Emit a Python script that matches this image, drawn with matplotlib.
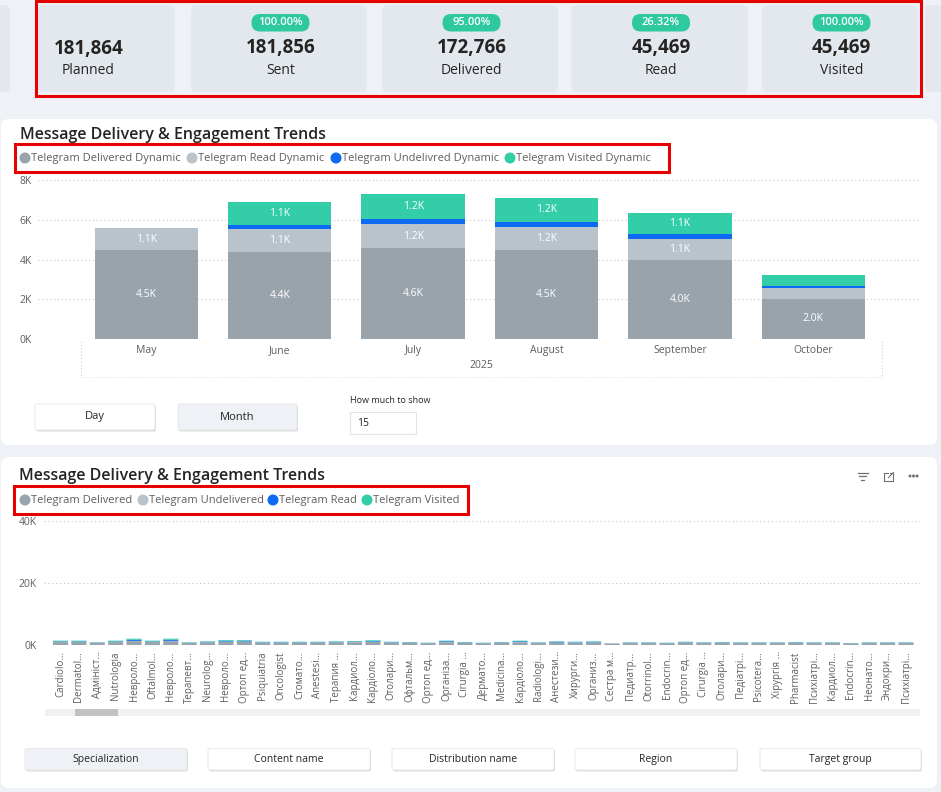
import matplotlib
matplotlib.use('Agg')
import matplotlib.pyplot as plt
from matplotlib.patches import FancyBboxPatch, Rectangle, Circle
import numpy as np

plt.rcParams['font.family'] = ['Open Sans', 'DejaVu Sans']

W, H = 941, 792

# ---------------- data ----------------
kpi_labels = ['Planned', 'Sent', 'Delivered', 'Read', 'Visited']
kpi_values = [181864, 181856, 172766, 45469, 45469]
kpi_pcts = [None, '100.00%', '95.00%', '26.32%', '100.00%']

months = ['May', 'June', 'July', 'August', 'September', 'October']
year_label = '2025'
delivered_dyn = [4460, 4390, 4560, 4490, 3960, 2030]
read_dyn = [1130, 1130, 1240, 1170, 1090, 540]
undelivered_dyn = [0, 230, 250, 250, 240, 100]
visited_dyn = [0, 1140, 1240, 1170, 1070, 550]
legend1 = ['Telegram Delivered Dynamic', 'Telegram Read Dynamic',
           'Telegram Undelivred Dynamic', 'Telegram Visited Dynamic']

specializations = ['Cardiolo…', 'Dermatol…', 'Адмініст…', 'Nutrologia', 'Невроло…', 'Oftalmol…',
                   'Невроло…', 'Терапевт…', 'Neurolog…', 'Невроло…', 'Ортоп ед…', 'Psiquiatria',
                   'Oncologist', 'Стомато…', 'Anestesi…', 'Терапия …', 'Кардиол…', 'Кардіоло…',
                   'Отолари…', 'Офтальм…', 'Ортоп ед…', 'Організа…', 'Cirurgia …', 'Дермато…',
                   'Medicina…', 'Кардіоло…', 'Radiologi…', 'Анестези…', 'Хирурги…', 'Организ…',
                   'Сестра м…', 'Педиатр…', 'Otorrinol…', 'Endocrin…', 'Ортоп ед…', 'Cirurgia …',
                   'Отолари…', 'Педіатрі…', 'Psicotera…', 'Хірургія …', 'Pharmacist', 'Психіатрі…',
                   'Кардиол…', 'Endocrin…', 'Неонато…', 'Эндокри…', 'Психіатрі…']
spec_delivered = [950, 960, 640, 940, 1250, 960, 1260, 640, 830, 1050, 1060, 740, 740, 740, 740, 820,
                  880, 1000, 740, 690, 540, 900, 690, 540, 690, 880, 630, 760, 740, 800, 420, 630,
                  630, 540, 720, 630, 690, 630, 630, 630, 680, 630, 630, 480, 630, 630, 630]
spec_undelivered = [60, 50, 40, 60, 80, 50, 80, 40, 50, 60, 60, 50, 40, 50, 50, 50, 60, 70, 40, 40,
                    30, 60, 40, 30, 40, 60, 40, 50, 50, 50, 30, 40, 40, 30, 50, 40, 40, 40, 40, 40,
                    50, 40, 40, 30, 40, 40, 40]
spec_read = [170, 170, 90, 180, 380, 170, 370, 90, 140, 270, 270, 120, 130, 120, 120, 140, 160, 200,
             130, 110, 80, 250, 110, 80, 110, 250, 90, 230, 120, 170, 50, 90, 90, 80, 130, 90, 110,
             90, 90, 90, 110, 90, 90, 70, 90, 90, 90]
spec_visited = [220, 220, 100, 220, 320, 220, 320, 100, 170, 230, 220, 150, 150, 150, 150, 180, 190,
                250, 150, 130, 90, 190, 130, 90, 130, 210, 110, 150, 150, 170, 50, 110, 110, 90,
                160, 110, 130, 110, 110, 110, 130, 110, 110, 70, 110, 110, 110]
legend2 = ['Telegram Delivered', 'Telegram Undelivered', 'Telegram Read', 'Telegram Visited']

view_buttons = ['Day', 'Month']
dim_buttons = ['Specialization', 'Content name', 'Distribution name', 'Region', 'Target group']

# ---------------- style ----------------
C_BG = '#eef1f5'
C_CARD = '#e3e8ee'
C_DEL = '#99a3ac'
C_READ = '#b9c3cc'
C_UND = '#0d6af2'
C_VIS = '#33cda7'
C_TXT = '#252423'
C_SUB = '#605e5c'
C_RED = '#e60000'

fig = plt.figure(figsize=(W / 100, H / 100), dpi=100)
fig.patch.set_facecolor(C_BG)
bg = fig.add_axes([0, 0, 1, 1])
bg.set_xlim(0, W)
bg.set_ylim(H, 0)
bg.axis('off')


def rrect(x0, y0, x1, y1, fc, ec='none', r=6, lw=0, z=1):
    bg.add_patch(FancyBboxPatch((x0, y0), x1 - x0, y1 - y0,
                                boxstyle=f'round,pad=0,rounding_size={r}',
                                fc=fc, ec=ec, lw=lw, zorder=z))


def redbox(x0, y0, x1, y1):
    bg.add_patch(Rectangle((x0, y0), x1 - x0, y1 - y0, fill=False, ec=C_RED, lw=2.2, zorder=10))


# ---------------- KPI cards ----------------
rrect(-20, 5, 10, 92, C_CARD)
rrect(925, 5, 960, 92, C_CARD)
card_x = [(38, 175), (191, 367), (382, 558), (571, 748), (762, 918)]
for (x0, x1), lab, val, pct in zip(card_x, kpi_labels, kpi_values, kpi_pcts):
    rrect(x0, 5, x1, 92, C_CARD)
    if pct is None:
        cx = 88.5
        bg.text(cx, 49, f'{val:,}', ha='center', va='center', fontsize=13.5,
                fontweight='bold', color=C_TXT, zorder=5)
        bg.text(cx, 71, lab, ha='center', va='center', fontsize=10, color=C_TXT, zorder=5)
    else:
        cx = (x0 + x1) / 2 + 1.5
        rrect(cx - 29, 14, cx + 29, 31.5, '#2fc9a0', r=8.5, z=3)
        bg.text(cx, 22.5, pct, ha='center', va='center', fontsize=8, color='white',
                fontweight='semibold', zorder=5)
        bg.text(cx, 47.5, f'{val:,}', ha='center', va='center', fontsize=13.5,
                fontweight='bold', color=C_TXT, zorder=5)
        bg.text(cx, 70, lab, ha='center', va='center', fontsize=10, color=C_TXT, zorder=5)
redbox(36, 1, 921, 96)

# ---------------- Panel 1 ----------------
rrect(1, 119, 937, 445, 'white', r=8)
bg.text(20, 135, 'Message Delivery & Engagement Trends', ha='left', va='center',
        fontsize=11.5, fontweight='semibold', color=C_TXT, zorder=5)
leg1_x = [25, 192, 336, 510]
for lx, lab, col in zip(leg1_x, legend1, [C_DEL, C_READ, C_UND, C_VIS]):
    bg.add_patch(Circle((lx, 158), 4.8, color=col, zorder=5))
    bg.text(lx + 6, 158, lab, ha='left', va='center', fontsize=8, color=C_SUB, zorder=5)
redbox(15, 144, 669, 172)

ax1 = fig.add_axes([38 / W, 1 - 339 / H, (920 - 38) / W, (339 - 180) / H])
ax1.set_facecolor('none')
x = np.arange(len(months))
bottom = np.zeros(len(months))
for vals, col in [(delivered_dyn, C_DEL), (read_dyn, C_READ),
                  (undelivered_dyn, C_UND), (visited_dyn, C_VIS)]:
    vals = np.array(vals, dtype=float)
    ax1.bar(x, vals, bottom=bottom, width=0.775, color=col, zorder=3)
    for xi, v, bb in zip(x, vals, bottom):
        if v >= 700:
            ax1.text(xi, bb + v / 2, f'{v / 1000:.1f}K', ha='center', va='center',
                     color='white', fontsize=7.5, zorder=4)
    bottom = bottom + vals
ax1.set_xlim(-0.813, 5.80)
ax1.set_ylim(0, 8000)
ax1.set_yticks([0, 2000, 4000, 6000, 8000])
ax1.set_yticklabels(['0K', '2K', '4K', '6K', '8K'])
ax1.set_xticks(x)
ax1.set_xticklabels(months)
ax1.set_axisbelow(True)
ax1.grid(axis='y', ls=(0, (1, 2.5)), color='#c8c8c8', lw=0.8)
for s in ax1.spines.values():
    s.set_visible(False)
ax1.tick_params(length=0, labelsize=7.5, labelcolor=C_SUB)
ax1.tick_params(axis='y', pad=4.3)
ax1.tick_params(axis='x', pad=4.5)

bg.text(481, 366, year_label, ha='center', va='center', fontsize=7.5, color=C_SUB, zorder=5)
for vx in (81, 882):
    bg.plot([vx, vx], [341, 377], ls=(0, (1, 2)), color='#d0d0d0', lw=0.8, zorder=4)
bg.plot([81, 882], [377, 377], ls=(0, (1, 2)), color='#dadada', lw=0.7, zorder=4)

# view buttons
for (x0, x1), lab, fc in zip([(35, 155), (178, 297)], view_buttons, ['white', '#eef1f5']):
    rrect(x0 + 1, 405.5, x1 + 1, 431.5, '#dcdcdc', r=2, z=2)
    rrect(x0, 404, x1, 430, fc, ec='#e6e6e6', lw=0.6, r=2, z=3)
    bg.text((x0 + x1) / 2, 417, lab, ha='center', va='center', fontsize=8, color=C_TXT, zorder=5)
bg.text(350, 400.5, 'How much to show', ha='left', va='center', fontsize=6.5, color=C_TXT, zorder=5)
bg.add_patch(Rectangle((350, 412), 66, 22, fc='white', ec='#e3e3e3', lw=0.8, zorder=3))
bg.text(357, 423.5, '15', ha='left', va='center', fontsize=7.5, color=C_TXT, zorder=5)

# ---------------- Panel 2 ----------------
rrect(1, 457, 937, 788, 'white', r=8)
bg.text(19, 476, 'Message Delivery & Engagement Trends', ha='left', va='center',
        fontsize=11.5, fontweight='semibold', color=C_TXT, zorder=5)
leg2_x = [25, 143, 273, 367]
for lx, lab, col in zip(leg2_x, legend2, [C_DEL, C_READ, C_UND, C_VIS]):
    bg.add_patch(Circle((lx, 500), 4.8, color=col, zorder=5))
    bg.text(lx + 6, 500, lab, ha='left', va='center', fontsize=8, color=C_SUB, zorder=5)
redbox(14, 486, 468, 514)

# header icons
for yy, ww in zip([472.5, 476, 479.5], [10, 7, 3]):
    bg.plot([863 - ww / 2, 863 + ww / 2], [yy, yy], color='#707070', lw=0.9, zorder=5)
bg.plot([884, 884, 893, 893], [473, 481, 481, 477], color='#707070', lw=0.8, zorder=5)
bg.plot([884, 888], [473, 473], color='#707070', lw=0.8, zorder=5)
bg.plot([888.5, 893.5], [477.5, 472.5], color='#707070', lw=0.8, zorder=5)
bg.plot([890.5, 893.5, 893.5], [472.5, 472.5, 475.5], color='#707070', lw=0.8, zorder=5)
for dx in (910, 913.5, 917):
    bg.add_patch(Circle((dx, 476), 0.8, color='#707070', zorder=5))

ax2 = fig.add_axes([44 / W, 1 - 645 / H, (920 - 44) / W, (645 - 521) / H])
ax2.set_facecolor('none')
xs = np.arange(len(specializations))
bottom = np.zeros(len(specializations))
for vals, col in [(spec_delivered, C_DEL), (spec_undelivered, C_READ),
                  (spec_read, C_UND), (spec_visited, C_VIS)]:
    vals = np.array(vals, dtype=float)
    bars = ax2.bar(xs, vals, bottom=bottom, width=0.82, color=col, zorder=3)
    for b in bars:
        b.set_snap(False)
    bottom = bottom + vals
ax2.set_xlim(-0.898, 46.76)
ax2.set_ylim(0, 40000)
ax2.set_yticks([0, 20000, 40000])
ax2.set_yticklabels(['0K', '20K', '40K'])
ax2.set_xticks(xs)
ax2.set_xticklabels(specializations, rotation=90, fontsize=7)
ax2.set_axisbelow(True)
ax2.grid(axis='y', ls=(0, (1, 2.5)), color='#c8c8c8', lw=0.8)
for s in ax2.spines.values():
    s.set_visible(False)
ax2.tick_params(length=0, labelcolor=C_SUB)
ax2.tick_params(axis='y', labelsize=7.5, pad=5)
ax2.tick_params(axis='x', pad=4.5)

# scrollbar
bg.add_patch(Rectangle((45, 709), 875, 7, fc='#f1f1f1', ec='none', zorder=3))
bg.add_patch(Rectangle((75, 709), 43, 7, fc='#c2c2c2', ec='none', zorder=4))

# dimension buttons
dim_x = [(25, 187), (208, 370), (392, 554), (575, 737), (760, 921)]
for i, ((x0, x1), lab) in enumerate(zip(dim_x, dim_buttons)):
    fc = '#eef1f5' if i == 0 else 'white'
    rrect(x0 + 1, 750, x1 + 1, 771.5, '#dedede', r=2, z=2)
    rrect(x0, 748.5, x1, 770, fc, ec='#e6e6e6', lw=0.6, r=2, z=3)
    bg.text((x0 + x1) / 2, 759.5, lab, ha='center', va='center', fontsize=7.5, color=C_TXT, zorder=5)

fig.savefig('out.png', dpi=100, facecolor=fig.get_facecolor())
